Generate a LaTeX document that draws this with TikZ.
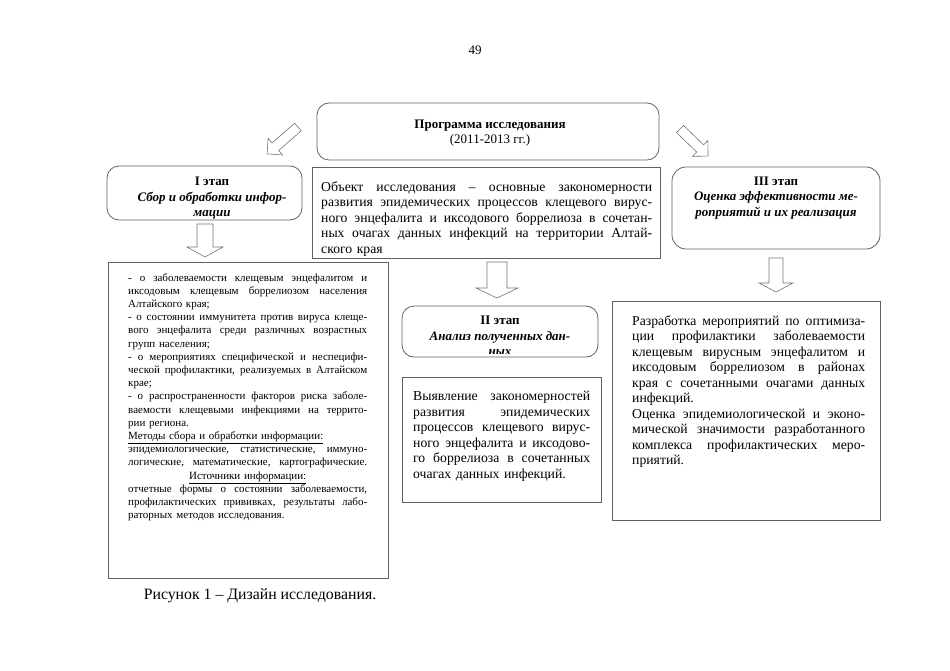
\documentclass[tikz,border=0pt]{standalone}
\usepackage{fontspec}
\setmainfont{Liberation Serif}
\parindent=0pt
\newcommand\jline[1]{\hbox to\hsize{\spaceskip=0pt\xspaceskip=0pt #1}}
\newcommand\rline[1]{\hbox to\hsize{#1\hfil}}
\newcommand\cenline[1]{\hbox to\hsize{\hfil#1\hfil}}
% block arrow: tail coordinate, angle, length, half shaft, half head, head length
\newcommand\blockarrow[6]{%
  \draw[barr, shift={(#1)}, rotate=#2] (0,-#4) -- ({#3-#6},-#4) -- ({#3-#6},-#5) -- (#3,0)
    -- ({#3-#6},#5) -- ({#3-#6},#4) -- (0,#4) -- cycle;}
\begin{document}
\begin{tikzpicture}[x=1pt,y=-1pt,
  ln/.style={draw=black!62, line width=0.8pt},
  rbox/.style={ln, rounded corners=12pt, inner sep=0pt, outer sep=0pt},
  sbox/.style={ln, inner sep=0pt, outer sep=0pt},
  head/.style={inner sep=0pt, font=\fontsize{13}{15.5}\selectfont},
  txt/.style={inner sep=0pt, font=\fontsize{13.7}{15.5}\selectfont},
  small/.style={inner sep=0pt, font=\fontsize{11}{13.2}\selectfont},
  barr/.style={draw=black!55, line width=0.6pt, line join=miter}]
\useasboundingbox (0,0) rectangle (950,671);

% page number
\node[head] (pg) at (475,50) {49};

% boxes
\node[rbox, minimum width=342, minimum height=57] (prog) at (488,131.5) {};
\node[sbox, minimum width=348, minimum height=91] (obj) at (486,212.5) {};
\node[rbox, minimum width=195, minimum height=54] (st1) at (204.5,193) {};
\node[rbox, rounded corners=14pt, minimum width=208, minimum height=82] (st3) at (776,208) {};
\node[sbox, minimum width=280, minimum height=316] (lbox) at (248,420) {};
\node[rbox, minimum width=196, minimum height=51] (st2) at (500,331.5) {};
\node[sbox, minimum width=199, minimum height=125] (t2) at (501.5,439.5) {};
\node[sbox, minimum width=268, minimum height=219] (t3) at (746,410.5) {};

% block arrows
\coordinate (a1t) at (298,127);
\coordinate (a3t) at (680,129);
\coordinate (d1t) at (205,224);
\coordinate (d2t) at (497,262);
\coordinate (d3t) at (776,258);
\blockarrow{a1t}{-139}{41}{5}{11}{11}
\blockarrow{a3t}{-44}{39}{5}{11}{11}
\blockarrow{d1t}{-90}{33}{8}{18}{10}
\blockarrow{d2t}{-90}{36}{10}{21}{10}
\blockarrow{d3t}{-90}{34}{7}{17}{9}

% texts
\node[head, align=center, anchor=north] (progt) at (490,119.5) {\textbf{Программа исследования}\\(2011-2013 гг.)};

\node[txt, text width=331, anchor=north west] (objt) at (321,181) {%
\jline{Объект исследования – основные закономерности}
\jline{развития эпидемических процессов клещевого вирус-}
\jline{ного энцефалита и иксодового боррелиоза в сочетан-}
\jline{ных очагах данных инфекций на территории Алтай-}
\rline{ского края}};

\node[head, align=center, anchor=north] (st1t) at (212,177) {\textbf{I этап}\\\textbf{\textit{Сбор и обработки инфор-}}\\\textbf{\textit{мации}}};

\node[head, align=center, anchor=north] (st3t) at (776,176.5) {\textbf{III этап}\\\textbf{\textit{Оценка эффективности ме-}}\\\textbf{\textit{роприятий и их реализация}}};

\begin{scope}
\clip (402,306) rectangle (598,353);
\node[head, align=center, anchor=north] (st2t) at (500,316) {\textbf{II этап}\\\textbf{\textit{Анализ полученных дан-}}\\\textbf{\textit{ных}}};
\end{scope}

\node[txt, text width=177, anchor=north west] (t2t) at (413,391) {%
\jline{Выявление закономерностей}
\jline{развития эпидемических}
\jline{процессов клещевого вирус-}
\jline{ного энцефалита и иксодово-}
\jline{го боррелиоза в сочетанных}
\rline{очагах данных инфекций.}};

\node[txt, text width=233, anchor=north west] (t3t) at (632,315) {%
\jline{Разработка мероприятий по оптимиза-}
\jline{ции профилактики заболеваемости}
\jline{клещевым вирусным энцефалитом и}
\jline{иксодовым боррелиозом в районах}
\jline{края с сочетанными очагами данных}
\rline{инфекций.}
\jline{Оценка эпидемиологической и эконо-}
\jline{мической значимости разработанного}
\jline{комплекса профилактических меро-}
\rline{приятий.}};

\node[small, text width=239, anchor=north west] (lt) at (128,273) {%
\jline{- о заболеваемости клещевым энцефалитом и}
\jline{иксодовым клещевым боррелиозом населения}
\rline{Алтайского края;}
\jline{- о состоянии иммунитета против вируса клеще-}
\jline{вого энцефалита среди различных возрастных}
\rline{групп населения;}
\jline{- о мероприятиях специфической и неспецифи-}
\jline{ческой профилактики, реализуемых в Алтайском}
\rline{крае;}
\jline{- о распространенности факторов риска заболе-}
\jline{ваемости клещевыми инфекциями на террито-}
\rline{рии региона.}
\rline{\underline{Методы сбора и обработки информации:}}
\jline{эпидемиологические, статистические, иммуно-}
\jline{логические, математические, картографические.}
\cenline{\underline{Источники информации:}}
\jline{отчетные формы о состоянии заболеваемости,}
\jline{профилактических прививках, результаты лабо-}
\rline{раторных методов исследования.}};

% caption
\node[inner sep=0pt, font=\fontsize{15.8}{18}\selectfont] (cap) at (260,596) {Рисунок 1 – Дизайн исследования.};
\end{tikzpicture}
\end{document}
